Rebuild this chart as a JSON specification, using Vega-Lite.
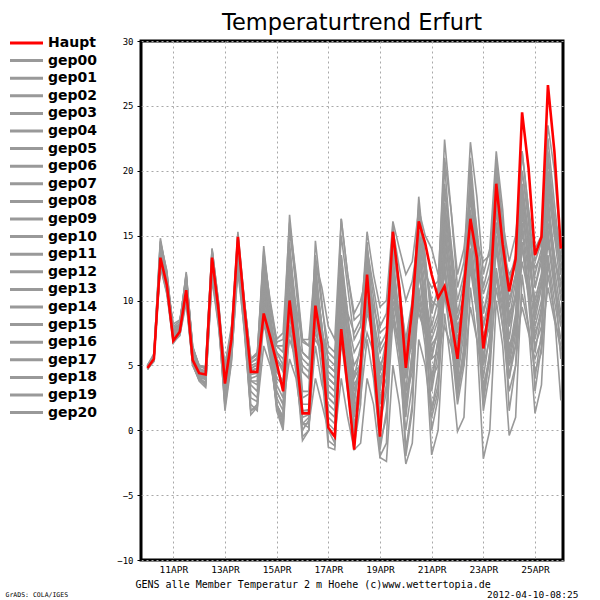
{
"$schema":"https://vega.github.io/schema/vega-lite/v6.json",
"width":422,"height":519,"autosize":"none",
"padding":{"left":141,"top":41,"right":37,"bottom":40},
"background":"white",
"title":{"text":"Temperaturtrend Erfurt","font":"DejaVu Sans","fontSize":22.5,"fontWeight":"normal","anchor":"middle","offset":2,"color":"black"},
"data":{"values":[
{"m":"Haupt","h":[0,6,12,18,24,30,36,42,48,54,60,66,72,78,84,90,96,102,108,114,120,126,132,138,144,150,156,162,168,174,180,186,192,198,204,210,216,222,228,234,240,246,252,258,264,270,276,282,288,294,300,306,312,318,324,330,336,342,348,354,360,366,372,378,384],"v":[4.8,5.5,13.3,11.2,6.9,7.6,10.8,5.4,4.4,4.3,13.3,9.3,3.6,7.0,14.9,9.5,4.5,4.5,9.0,7.2,5.2,3.0,10.0,6.0,1.3,1.3,9.6,6.6,0.2,-0.5,7.8,3.3,-1.5,5.0,12.0,5.6,-0.5,7.0,15.3,11.0,4.8,9.5,16.1,14.4,12.0,10.2,11.1,8.6,5.5,11.0,16.3,13.3,6.3,9.8,19.0,14.3,10.7,13.2,24.5,20.2,13.5,14.9,26.6,21.5,14.0]},
{"m":"gep00","h":[0,6,12,18,24,30,36,42,48,54,60,66,72,78,84,90,96,102,108,114,120,126,132,138,144,150,156,162,168,174,180,186,192,198,204,210,216,222,228,234,240,246,252,258,264,270,276,282,288,294,300,306,312,318,324,330,336,342,348,354,360,366,372,378,384],"v":[4.9,5.6,14.2,11.8,7.4,8.0,11.5,6.0,4.8,4.5,13.6,9.6,3.2,6.8,14.5,9.2,4.8,5.0,11.5,8.0,4.5,3.8,12.5,7.5,2.5,2.8,11.0,7.0,3.5,3.0,9.5,6.0,2.0,5.5,13.0,8.0,3.0,6.5,12.0,8.5,4.0,7.5,14.5,10.0,5.5,8.0,17.0,12.0,6.5,9.0,15.0,10.5,7.0,8.5,12.0,9.0,5.0,8.0,15.5,11.0,7.0,9.5,17.5,12.5,9.0]},
{"m":"gep01","h":[0,6,12,18,24,30,36,42,48,54,60,66,72,78,84,90,96,102,108,114,120,126,132,138,144,150,156,162,168,174,180,186,192,198,204,210,216,222,228,234,240,246,252,258,264,270,276,282,288,294,300,306,312,318,324,330,336,342,348,354,360,366,372,378,384],"v":[4.7,5.4,12.8,11.0,7.8,8.2,12.0,6.3,5.0,4.9,14.0,9.9,4.5,7.5,15.3,10.0,5.5,5.8,14.2,9.5,6.5,6.0,16.6,11.5,6.8,6.5,12.0,8.0,4.0,3.5,11.0,7.0,3.5,4.5,10.0,6.5,2.5,4.0,9.5,6.0,1.0,5.5,12.5,8.5,4.0,7.0,14.0,10.0,5.0,9.0,18.0,13.5,8.0,10.5,19.5,14.0,9.0,10.0,16.0,12.0,8.0,10.0,15.0,11.5,8.5]},
{"m":"gep02","h":[0,6,12,18,24,30,36,42,48,54,60,66,72,78,84,90,96,102,108,114,120,126,132,138,144,150,156,162,168,174,180,186,192,198,204,210,216,222,228,234,240,246,252,258,264,270,276,282,288,294,300,306,312,318,324,330,336,342,348,354,360,366,372,378,384],"v":[5.0,5.8,14.8,12.0,7.1,7.5,10.2,5.2,4.1,3.9,12.5,8.8,1.5,5.2,13.0,8.0,2.0,1.5,10.0,6.0,1.8,0.2,9.0,5.0,-0.8,0.0,8.5,4.5,-1.3,-1.5,7.0,3.0,-1.0,3.5,11.0,6.0,0.5,6.0,13.5,8.5,3.0,8.0,15.0,11.0,6.0,7.5,12.5,9.0,3.5,6.0,14.0,10.0,2.5,5.5,16.0,11.5,5.5,8.5,18.5,14.0,8.5,11.0,20.0,15.0,11.0]},
{"m":"gep03","h":[0,6,12,18,24,30,36,42,48,54,60,66,72,78,84,90,96,102,108,114,120,126,132,138,144,150,156,162,168,174,180,186,192,198,204,210,216,222,228,234,240,246,252,258,264,270,276,282,288,294,300,306,312,318,324,330,336,342,348,354,360,366,372,378,384],"v":[4.8,5.3,13.0,10.8,6.8,7.3,9.8,5.0,3.9,3.6,12.0,8.5,4.8,7.8,12.5,9.8,5.2,5.5,8.0,7.0,6.0,5.5,7.5,6.5,5.0,4.5,8.5,6.5,4.5,4.0,10.0,7.5,5.0,6.0,11.5,8.5,6.0,7.0,10.5,8.0,5.5,6.5,9.5,7.5,4.0,5.0,10.5,7.0,3.0,5.5,12.5,9.0,5.0,7.0,14.0,10.0,6.5,8.0,13.0,10.5,7.5,9.0,14.5,11.0,8.0]},
{"m":"gep04","h":[0,6,12,18,24,30,36,42,48,54,60,66,72,78,84,90,96,102,108,114,120,126,132,138,144,150,156,162,168,174,180,186,192,198,204,210,216,222,228,234,240,246,252,258,264,270,276,282,288,294,300,306,312,318,324,330,336,342,348,354,360,366,372,378,384],"v":[4.9,5.7,13.8,11.5,8.0,8.4,11.8,6.5,4.9,4.8,13.8,9.5,3.0,6.5,14.0,9.0,4.0,4.2,12.5,8.5,3.5,2.5,14.0,9.0,3.0,3.0,14.6,10.0,5.0,4.5,16.3,12.0,9.0,10.0,12.0,9.5,7.5,8.0,14.0,11.0,6.0,9.0,18.0,13.0,9.0,11.0,22.4,17.0,11.0,13.0,22.2,18.0,12.0,14.0,21.5,17.0,10.0,12.0,19.0,15.0,9.0,11.5,21.0,16.0,12.0]},
{"m":"gep05","h":[0,6,12,18,24,30,36,42,48,54,60,66,72,78,84,90,96,102,108,114,120,126,132,138,144,150,156,162,168,174,180,186,192,198,204,210,216,222,228,234,240,246,252,258,264,270,276,282,288,294,300,306,312,318,324,330,336,342,348,354,360,366,372,378,384],"v":[4.7,5.5,12.6,10.5,6.7,7.4,10.5,5.3,4.2,3.4,11.8,8.2,2.0,5.5,12.2,7.8,1.2,1.8,6.5,5.0,3.0,2.0,5.5,4.0,0.5,0.5,4.0,2.0,0.0,-0.5,4.0,1.0,-1.5,-1.0,4.0,2.0,-2.1,-2.4,5.0,2.0,-2.6,-1.0,7.0,5.0,1.0,3.0,11.0,7.0,2.0,5.0,13.5,9.0,1.5,4.5,12.0,8.0,3.0,5.0,10.5,8.0,4.5,6.0,12.0,9.0,6.0]},
{"m":"gep06","h":[0,6,12,18,24,30,36,42,48,54,60,66,72,78,84,90,96,102,108,114,120,126,132,138,144,150,156,162,168,174,180,186,192,198,204,210,216,222,228,234,240,246,252,258,264,270,276,282,288,294,300,306,312,318,324,330,336,342,348,354,360,366,372,378,384],"v":[5.0,5.9,14.5,12.3,7.5,7.9,12.2,6.1,4.6,4.2,13.0,9.0,4.0,7.2,14.8,9.8,5.0,5.2,13.0,9.0,5.5,4.5,15.5,11.0,6.0,5.5,13.5,9.5,6.5,6.0,15.0,11.0,7.0,8.0,15.3,12.0,9.5,10.0,16.1,14.0,12.0,13.0,17.0,15.0,14.0,12.0,15.0,11.0,7.0,9.0,17.0,13.0,9.0,11.0,20.0,15.0,11.0,13.0,21.5,17.0,14.0,15.0,23.5,20.0,14.0]},
{"m":"gep07","h":[0,6,12,18,24,30,36,42,48,54,60,66,72,78,84,90,96,102,108,114,120,126,132,138,144,150,156,162,168,174,180,186,192,198,204,210,216,222,228,234,240,246,252,258,264,270,276,282,288,294,300,306,312,318,324,330,336,342,348,354,360,366,372,378,384],"v":[4.8,5.4,13.5,11.3,7.2,7.7,11.0,5.7,4.5,4.4,13.5,9.4,3.5,6.9,14.2,9.5,3.8,3.5,10.5,7.5,2.5,1.5,11.0,7.0,1.0,1.2,10.5,6.0,1.5,1.0,12.0,7.5,3.0,5.0,9.5,6.5,1.0,3.5,12.5,8.0,2.0,6.0,13.5,10.0,3.0,6.0,15.5,11.5,5.5,8.0,19.0,14.5,9.0,11.5,17.5,13.0,7.0,10.5,14.0,11.0,6.0,9.0,18.0,13.5,10.0]},
{"m":"gep08","h":[0,6,12,18,24,30,36,42,48,54,60,66,72,78,84,90,96,102,108,114,120,126,132,138,144,150,156,162,168,174,180,186,192,198,204,210,216,222,228,234,240,246,252,258,264,270,276,282,288,294,300,306,312,318,324,330,336,342,348,354,360,366,372,378,384],"v":[4.9,5.6,12.9,11.0,7.0,7.8,11.3,5.9,4.3,4.0,12.8,8.9,2.5,6.0,13.5,8.5,3.0,2.5,9.5,6.5,1.5,0.0,8.0,4.5,0.0,0.8,6.5,3.5,2.0,1.5,8.5,5.0,0.5,2.5,7.0,4.0,-1.0,1.0,8.5,5.0,0.0,3.5,10.0,6.5,-1.9,0.0,9.0,5.0,-0.1,1.0,11.0,7.0,-2.2,0.0,10.0,6.5,-0.4,1.0,12.0,8.0,1.3,3.5,13.0,9.0,2.3]},
{"m":"gep09","h":[0,6,12,18,24,30,36,42,48,54,60,66,72,78,84,90,96,102,108,114,120,126,132,138,144,150,156,162,168,174,180,186,192,198,204,210,216,222,228,234,240,246,252,258,264,270,276,282,288,294,300,306,312,318,324,330,336,342,348,354,360,366,372,378,384],"v":[4.8,5.5,14.0,11.9,7.6,8.1,10.0,5.1,3.8,3.3,11.6,8.0,3.8,7.0,15.0,9.6,4.3,4.4,9.5,7.0,5.0,3.2,10.5,6.5,1.5,1.6,9.0,6.5,0.5,0.0,8.0,4.0,-0.5,4.5,12.5,7.5,0.0,6.5,14.5,10.5,5.0,9.0,15.5,12.5,10.0,9.5,12.0,9.0,6.0,10.0,15.5,12.0,5.5,9.0,17.0,12.5,9.5,12.0,20.0,16.0,11.0,13.0,19.0,15.5,12.5]},
{"m":"gep10","h":[0,6,12,18,24,30,36,42,48,54,60,66,72,78,84,90,96,102,108,114,120,126,132,138,144,150,156,162,168,174,180,186,192,198,204,210,216,222,228,234,240,246,252,258,264,270,276,282,288,294,300,306,312,318,324,330,336,342,348,354,360,366,372,378,384],"v":[4.7,5.3,13.1,10.9,7.3,8.3,11.7,6.4,5.0,4.7,14.0,9.8,3.0,6.2,13.8,8.8,4.5,4.8,12.0,8.0,6.0,5.0,9.0,7.0,5.5,5.0,7.5,6.0,4.0,3.5,6.5,5.0,4.5,5.0,9.0,7.5,5.0,6.0,11.0,8.5,4.5,7.0,12.0,9.5,7.0,8.5,18.5,14.0,9.0,11.5,16.0,12.5,8.0,10.0,14.5,11.0,6.0,9.0,17.5,13.0,10.0,12.0,16.0,13.0,11.5]},
{"m":"gep11","h":[0,6,12,18,24,30,36,42,48,54,60,66,72,78,84,90,96,102,108,114,120,126,132,138,144,150,156,162,168,174,180,186,192,198,204,210,216,222,228,234,240,246,252,258,264,270,276,282,288,294,300,306,312,318,324,330,336,342,348,354,360,366,372,378,384],"v":[5.0,5.7,13.7,11.6,6.9,7.5,10.4,5.2,4.0,3.7,12.3,8.6,4.2,7.6,14.6,9.9,5.4,5.9,13.5,10.0,7.0,7.5,16.0,12.0,7.0,7.0,13.0,11.0,8.0,7.0,16.3,12.0,8.5,9.0,14.0,10.2,6.5,7.5,11.5,7.0,2.5,4.5,10.5,7.5,1.5,3.5,13.0,8.5,2.5,6.0,16.5,11.5,4.0,7.5,18.0,13.5,8.0,10.5,18.5,14.5,9.5,11.5,17.0,13.5,10.5]},
{"m":"gep12","h":[0,6,12,18,24,30,36,42,48,54,60,66,72,78,84,90,96,102,108,114,120,126,132,138,144,150,156,162,168,174,180,186,192,198,204,210,216,222,228,234,240,246,252,258,264,270,276,282,288,294,300,306,312,318,324,330,336,342,348,354,360,366,372,378,384],"v":[4.9,5.6,14.3,12.1,7.7,8.0,11.9,6.2,4.7,4.6,13.7,9.7,2.8,6.3,14.0,9.2,2.5,2.2,10.0,6.0,2.0,1.0,12.0,7.0,0.5,0.2,11.5,6.5,0.0,-1.0,12.5,7.0,1.0,4.0,13.5,8.0,-2.0,-1.0,13.0,8.5,-1.5,2.0,14.0,9.0,0.0,2.5,16.5,10.5,3.0,6.5,20.0,14.0,5.0,9.5,21.0,15.5,8.5,11.5,21.5,17.0,11.0,13.5,22.5,17.5,13.0]},
{"m":"gep13","h":[0,6,12,18,24,30,36,42,48,54,60,66,72,78,84,90,96,102,108,114,120,126,132,138,144,150,156,162,168,174,180,186,192,198,204,210,216,222,228,234,240,246,252,258,264,270,276,282,288,294,300,306,312,318,324,330,336,342,348,354,360,366,372,378,384],"v":[4.8,5.4,12.7,10.6,7.0,7.6,10.9,5.6,4.4,4.1,12.9,9.1,4.5,7.4,13.5,9.0,4.6,4.8,8.5,6.5,4.0,3.5,7.0,5.5,4.5,4.0,9.5,7.5,5.5,5.0,11.5,8.5,6.0,7.0,10.5,8.0,4.0,5.0,9.0,6.0,3.0,5.0,11.0,8.0,6.5,7.5,13.5,10.5,8.0,9.5,14.0,10.0,6.5,8.0,12.5,9.5,4.0,6.5,14.5,10.5,6.5,8.0,13.5,10.0,7.0]},
{"m":"gep14","h":[0,6,12,18,24,30,36,42,48,54,60,66,72,78,84,90,96,102,108,114,120,126,132,138,144,150,156,162,168,174,180,186,192,198,204,210,216,222,228,234,240,246,252,258,264,270,276,282,288,294,300,306,312,318,324,330,336,342,348,354,360,366,372,378,384],"v":[4.7,5.5,13.4,11.4,8.2,8.5,11.2,6.0,4.6,4.3,13.2,9.2,3.4,6.7,14.3,9.3,3.5,3.0,11.0,7.8,3.0,2.0,13.0,8.5,2.0,2.0,12.5,8.0,2.5,2.0,13.5,9.0,4.0,6.5,13.0,9.0,4.5,7.0,15.0,11.0,6.5,9.5,16.5,13.5,8.0,10.0,19.0,14.5,10.0,12.0,18.0,14.0,10.5,12.0,17.5,14.0,12.0,13.0,16.5,13.5,12.0,14.0,20.0,16.0,13.5]},
{"m":"gep15","h":[0,6,12,18,24,30,36,42,48,54,60,66,72,78,84,90,96,102,108,114,120,126,132,138,144,150,156,162,168,174,180,186,192,198,204,210,216,222,228,234,240,246,252,258,264,270,276,282,288,294,300,306,312,318,324,330,336,342,348,354,360,366,372,378,384],"v":[4.9,5.8,14.6,12.2,7.4,7.7,10.6,5.4,4.2,3.9,12.6,8.7,2.2,5.8,13.2,8.2,1.5,1.8,11.0,6.5,2.0,0.5,14.5,8.0,-0.5,0.0,13.0,7.0,-0.8,-1.2,11.0,5.0,-1.2,2.0,14.5,8.5,0.5,3.0,16.0,10.0,1.5,6.0,17.5,12.0,3.5,7.0,20.5,14.0,4.5,8.5,21.0,15.0,2.0,6.0,19.0,13.0,4.0,7.5,18.0,12.5,3.0,6.5,17.0,12.0,5.5]},
{"m":"gep16","h":[0,6,12,18,24,30,36,42,48,54,60,66,72,78,84,90,96,102,108,114,120,126,132,138,144,150,156,162,168,174,180,186,192,198,204,210,216,222,228,234,240,246,252,258,264,270,276,282,288,294,300,306,312,318,324,330,336,342,348,354,360,366,372,378,384],"v":[4.8,5.6,13.6,11.2,7.1,7.9,11.4,5.8,4.5,4.5,13.4,9.3,5.0,8.0,12.0,10.0,5.5,6.0,9.0,8.0,6.5,6.5,8.0,7.0,6.0,5.5,7.0,6.0,5.0,4.5,8.0,6.5,4.0,5.0,7.5,6.0,4.5,5.5,8.5,7.0,6.0,7.0,9.0,7.5,5.5,6.0,8.0,6.5,4.0,5.0,9.5,7.0,3.5,5.5,11.0,8.0,5.0,6.5,9.5,7.5,5.5,7.0,11.0,8.5,6.5]},
{"m":"gep17","h":[0,6,12,18,24,30,36,42,48,54,60,66,72,78,84,90,96,102,108,114,120,126,132,138,144,150,156,162,168,174,180,186,192,198,204,210,216,222,228,234,240,246,252,258,264,270,276,282,288,294,300,306,312,318,324,330,336,342,348,354,360,366,372,378,384],"v":[5.0,5.5,13.2,11.1,7.9,8.2,12.1,6.4,4.9,4.9,13.9,9.9,3.9,7.1,14.6,9.7,4.7,5.1,12.5,8.8,5.5,4.8,14.0,9.5,4.5,4.0,10.0,7.0,2.5,2.0,9.0,5.5,2.5,5.5,11.5,7.0,2.0,5.0,10.0,7.5,5.0,7.0,13.0,10.5,7.5,9.0,17.5,13.0,8.5,10.5,19.5,15.5,11.0,13.0,20.5,16.0,13.0,15.0,20.0,16.5,13.0,14.5,19.5,16.0,12.0]},
{"m":"gep18","h":[0,6,12,18,24,30,36,42,48,54,60,66,72,78,84,90,96,102,108,114,120,126,132,138,144,150,156,162,168,174,180,186,192,198,204,210,216,222,228,234,240,246,252,258,264,270,276,282,288,294,300,306,312,318,324,330,336,342,348,354,360,366,372,378,384],"v":[4.8,5.4,13.9,11.7,6.8,7.3,10.1,5.0,3.9,3.5,12.1,8.4,1.8,5.4,12.8,7.6,1.5,2.0,8.5,5.5,2.0,0.8,10.0,6.0,0.5,1.0,10.0,5.5,1.0,0.5,10.5,6.0,0.0,3.0,11.0,6.5,-1.5,1.5,11.5,6.5,-2.0,1.5,12.5,8.0,1.5,4.5,14.5,9.5,4.0,7.5,13.0,9.0,3.0,6.0,15.0,10.5,1.5,5.0,14.5,10.0,4.0,7.5,15.5,11.0,8.0]},
{"m":"gep19","h":[0,6,12,18,24,30,36,42,48,54,60,66,72,78,84,90,96,102,108,114,120,126,132,138,144,150,156,162,168,174,180,186,192,198,204,210,216,222,228,234,240,246,252,258,264,270,276,282,288,294,300,306,312,318,324,330,336,342,348,354,360,366,372,378,384],"v":[4.9,5.7,12.9,10.7,7.5,8.0,11.6,6.1,4.7,4.4,13.1,9.0,4.6,7.7,15.1,10.0,5.2,5.6,13.8,9.8,6.8,7.0,12.0,9.5,7.0,6.5,9.5,7.5,6.0,5.5,12.5,9.0,7.5,8.5,14.0,11.0,8.0,9.0,15.5,12.5,10.0,11.5,15.0,12.0,11.0,11.5,21.0,17.0,12.0,14.0,18.5,14.5,13.0,13.5,16.0,13.0,11.5,13.5,19.0,15.0,12.5,13.5,18.5,15.0,13.0]},
{"m":"gep20","h":[0,6,12,18,24,30,36,42,48,54,60,66,72,78,84,90,96,102,108,114,120,126,132,138,144,150,156,162,168,174,180,186,192,198,204,210,216,222,228,234,240,246,252,258,264,270,276,282,288,294,300,306,312,318,324,330,336,342,348,354,360,366,372,378,384],"v":[4.7,5.6,14.1,11.9,7.2,7.6,10.7,5.5,4.3,4.0,12.7,8.8,3.3,6.6,13.9,9.0,3.8,3.8,11.8,7.0,2.0,1.0,12.5,7.0,1.5,1.5,12.0,8.0,3.0,2.5,13.5,8.5,1.5,4.0,12.5,8.0,3.5,6.0,14.0,10.5,7.0,10.0,16.5,13.0,9.5,10.5,17.5,13.5,7.5,10.0,16.5,12.5,7.0,9.5,18.5,13.5,8.0,10.5,17.0,13.0,10.0,12.0,21.5,16.5,14.0]}
]},
"transform":[{"flatten":["h","v"]}],
"layer":[
{"transform":[{"filter":"datum.m !== 'Haupt'"}],
 "mark":{"type":"line","strokeWidth":1.6},
 "encoding":{
  "x":{"field":"h","type":"quantitative","scale":{"domain":[-6,386],"nice":false,"zero":false},
       "axis":{"values":[24,72,120,168,216,264,312,360],"labelExpr":"(datum.value/24+10)+'APR'","grid":true,"gridColor":"#a8a8a8","gridDash":[2,3],"gridWidth":1,"ticks":false,"domain":false,
               "labelFont":"DejaVu Sans Mono","labelFontSize":9.5,"labelColor":"black","labelPadding":4,
               "title":"GENS alle Member Temperatur 2 m Hoehe (c)www.wettertopia.de","titleFont":"DejaVu Sans Mono","titleFontSize":10,"titleFontWeight":"normal","titleColor":"black","titleAnchor":"start","titleAlign":"left","titleX":-6,"titleY":24,"titleBaseline":"middle"}},
  "y":{"field":"v","type":"quantitative","scale":{"domain":[-10,30],"nice":false,"zero":false},
       "axis":{"values":[-10,-5,0,5,10,15,20,25,30],"grid":true,"gridColor":"#a8a8a8","gridDash":[2,3],"gridWidth":1,"domain":false,"tickSize":4,"tickColor":"black","tickWidth":1,
               "labelFont":"DejaVu Sans Mono","labelFontSize":9,"labelColor":"black","labelPadding":4,
               "title":"GrADS: COLA/IGES","titleAngle":0,"titleFont":"DejaVu Sans Mono","titleFontSize":6.5,"titleFontWeight":"normal","titleColor":"black","titleAlign":"left","titleBaseline":"middle","titleX":-136,"titleY":553}},
  "color":{"field":"m","type":"nominal",
           "scale":{"domain":["Haupt","gep00","gep01","gep02","gep03","gep04","gep05","gep06","gep07","gep08","gep09","gep10","gep11","gep12","gep13","gep14","gep15","gep16","gep17","gep18","gep19","gep20"],
                    "range":["#ff0000","#999999","#999999","#999999","#999999","#999999","#999999","#999999","#999999","#999999","#999999","#999999","#999999","#999999","#999999","#999999","#999999","#999999","#999999","#999999","#999999","#999999"]},
           "legend":{"orient":"none","legendX":-110,"legendY":-5,"title":null,"symbolType":"M-5.6,0H1","symbolSize":100,"symbolStrokeWidth":3,"symbolOpacity":1,
                     "labelFont":"DejaVu Sans","labelFontSize":14,"labelFontWeight":"bold","labelColor":"black","rowPadding":3.6,"padding":0,"labelOffset":3}}
 }},
{"transform":[{"filter":"datum.m === 'Haupt'"}],
 "mark":{"type":"line","strokeWidth":2.6},
 "encoding":{
  "x":{"field":"h","type":"quantitative"},
  "y":{"field":"v","type":"quantitative","scale":{"domain":[-10,30],"nice":false,"zero":false},
       "axis":{"labels":false,"ticks":false,"domain":false,"grid":false,
               "title":"2012-04-10-08:25","titleAngle":0,"titleFont":"DejaVu Sans Mono","titleFontSize":9.5,"titleFontWeight":"normal","titleColor":"black","titleAlign":"right","titleBaseline":"middle","titleX":15,"titleY":553}},
  "color":{"field":"m","type":"nominal"}
 }}
],
"resolve":{"scale":{"y":"independent"}},
"config":{"view":{"stroke":"black","strokeWidth":3},"font":"DejaVu Sans"}
}
